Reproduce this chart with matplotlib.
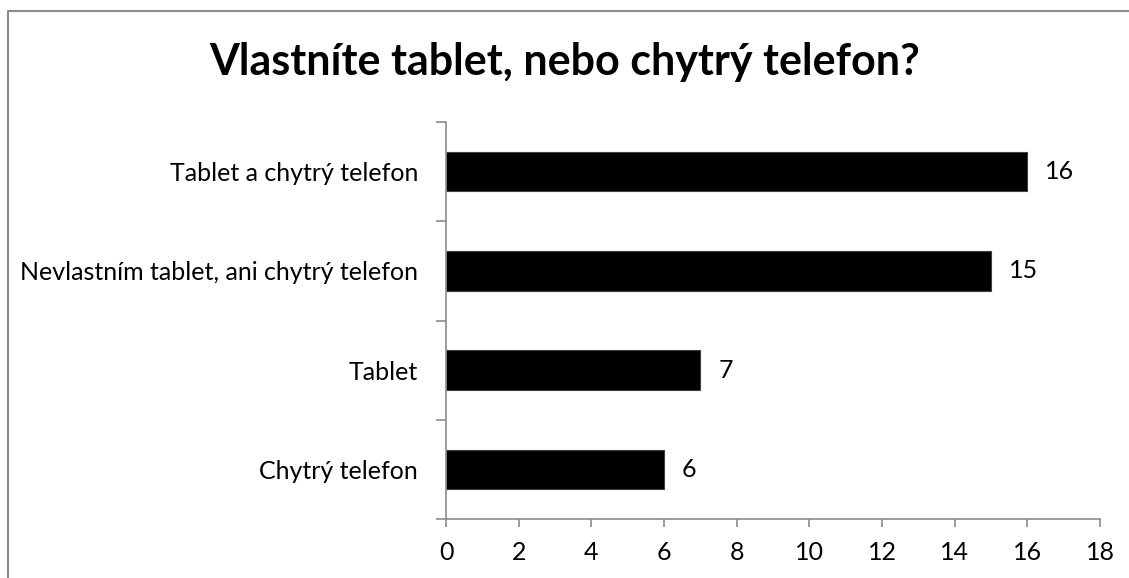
import matplotlib.pyplot as plt
from matplotlib.lines import Line2D

categories = ["Chytrý telefon", "Tablet", "Nevlastním tablet, ani chytrý telefon", "Tablet a chytrý telefon"]
values = [6, 7, 15, 16]
xticks = [0, 2, 4, 6, 8, 10, 12, 14, 16, 18]

plt.rcParams['font.family'] = ['Lato', 'DejaVu Sans']

W, H = 1129, 578
fig = plt.figure(figsize=(W / 100, H / 100), dpi=100)

# outer chart border: only the top and left edges fall inside the image
bx, by = 7.5 / W, 1 - 10.5 / H
fig.lines.append(Line2D([bx, bx, 1.05], [-0.05, by, by], transform=fig.transFigure,
                        color='#8c8c8c', linewidth=1.5))

ax = fig.add_axes([446 / W, 1 - 519 / H, (1100 - 446) / W, (519 - 122) / H])

pos = list(range(len(categories)))
ax.barh(pos, values, height=0.4, color='black', edgecolor='#404040', linewidth=0.8)

for p, v in zip(pos, values):
    ax.annotate(str(v), (v, p), xytext=(13, 0), textcoords='offset points',
                ha='left', va='center', fontsize=18)

ax.set_xlim(0, 18)
ax.set_ylim(-0.5, len(categories) - 0.5)
ax.set_xticks(xticks)
ax.set_xticklabels([str(t) for t in xticks], fontsize=18)

# category labels sit between the boundary ticks
ax.set_yticks([p - 0.5 for p in pos] + [len(categories) - 0.5])
ax.set_yticklabels([])
ax.set_yticks(pos, minor=True)
ax.set_yticklabels(categories, minor=True, fontsize=18)
ax.tick_params(axis='y', which='minor', length=0, pad=20)
ax.tick_params(axis='y', which='major', length=7, color='#8c8c8c', width=1.2)
ax.tick_params(axis='x', length=6, color='#8c8c8c', width=1.2, pad=10)

for s in ['top', 'right']:
    ax.spines[s].set_visible(False)
for s in ['left', 'bottom']:
    ax.spines[s].set_color('#8c8c8c')
    ax.spines[s].set_linewidth(1.2)

fig.text(565 / W, 1 - 62 / H, "Vlastníte tablet, nebo chytrý telefon?", ha='center', va='center',
         fontsize=31, fontweight='bold')

fig.savefig('out.png', dpi=100)
